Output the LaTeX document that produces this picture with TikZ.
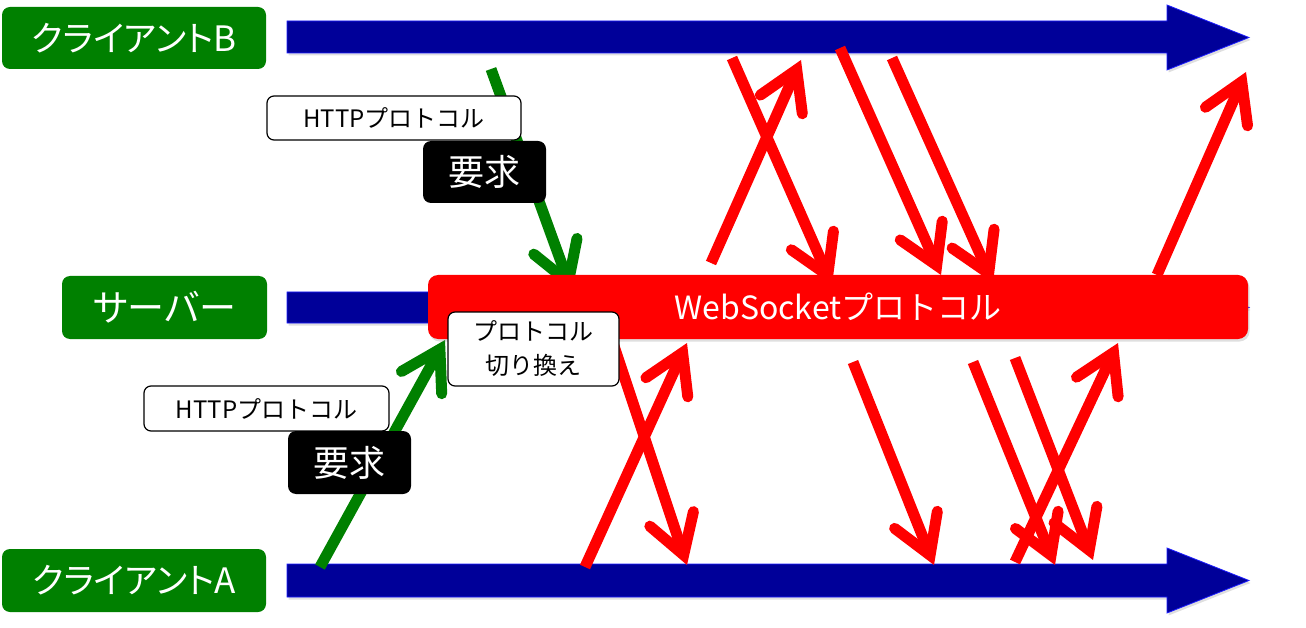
\documentclass[tikz,border=0pt]{standalone}
\usepackage{fontspec}
\newfontfamily\jp{Noto Sans CJK JP}
\newfontfamily\jpp[RawFeature=+palt]{Noto Sans CJK JP}
\usetikzlibrary{arrows.meta,shadows}
\definecolor{lanegreen}{RGB}{0,128,0}
\definecolor{lineblue}{RGB}{0,0,153}
\definecolor{edgeblue}{RGB}{30,30,255}
\definecolor{wsred}{RGB}{255,0,0}
\begin{document}
\begin{tikzpicture}[x=1pt,y=-1pt,
  lane/.style={fill=lanegreen, rounded corners=8pt, text=white, inner sep=0pt,
    font=\jpp\fontsize{35}{40}\selectfont},
  whitebox/.style={draw=black, line width=1.2pt, fill=white, rounded corners=7pt,
    inner sep=0pt, font=\jp\fontsize{24}{34}\selectfont, align=center},
  blackbox/.style={fill=black, rounded corners=8pt, text=white, inner sep=0pt,
    font=\jp\fontsize{36}{40}\selectfont},
  wsbox/.style={fill=wsred, rounded corners=10pt, text=white, inner sep=0pt,
    font=\jp\fontsize{32}{36}\selectfont,
    drop shadow={shadow xshift=1.5pt, shadow yshift=-2.5pt, opacity=0.25}},
  lifeline/.style={fill=lineblue, draw=edgeblue, line width=0.8pt,
    drop shadow={shadow xshift=1.5pt, shadow yshift=-2.5pt, opacity=0.25}},
  msg/.style={line width=11pt,
    -{Straight Barb[length=38pt, width=46pt, line cap=round, line join=miter]},
    preaction={draw=black, draw opacity=0.12, transform canvas={shift={(1.5pt,-2.5pt)}}}},
  redmsg/.style={msg, draw=wsred},
  greenmsg/.style={msg, draw=lanegreen},
]
\useasboundingbox (0,0) rectangle (1306,628);

% life lines
\path[lifeline] (287,21) -- (1167,21) -- (1167,5) -- (1249,37.5) -- (1167,70) -- (1167,53) -- (287,53) -- cycle;
\path[lifeline] (287,292) -- (1167,292) -- (1167,278) -- (1249,307.5) -- (1167,337) -- (1167,323) -- (287,323) -- cycle;
\path[lifeline] (287,564) -- (1167,564) -- (1167,548) -- (1249,580.5) -- (1167,613) -- (1167,597) -- (287,597) -- cycle;

% lane labels
\node[lane, minimum width=264pt, minimum height=62pt] (clientB) at (134,38) {クライアントB};
\node[lane, minimum width=205pt, minimum height=63pt, font=\jpp\fontsize{37}{40}\selectfont] (server) at (164.5,307.5) {サーバー};
\node[lane, minimum width=264pt, minimum height=63pt] (clientA) at (134,580.5) {クライアントA};

% coordinates of messages
\coordinate (g1s) at (491,69);   \coordinate (g1e) at (572,292);
\coordinate (g2s) at (320,567);  \coordinate (g2e) at (445,340);
\coordinate (r1s) at (711,263);  \coordinate (r1e) at (801,60);
\coordinate (r2s) at (732,58);   \coordinate (r2e) at (832,285);
\coordinate (r3s) at (840,48);   \coordinate (r3e) at (941,275);
\coordinate (r4s) at (892,58);   \coordinate (r4e) at (993,283);
\coordinate (r5s) at (1157,275); \coordinate (r5e) at (1246,72);
\coordinate (r7s) at (585,567);  \coordinate (r7e) at (687,343);
\coordinate (r8s) at (611,337);  \coordinate (r8e) at (687,565);
\coordinate (r9s) at (853,362);  \coordinate (r9e) at (934,565);
\coordinate (r10s) at (973,362); \coordinate (r10e) at (1055,565);
\coordinate (r11s) at (1015,358);\coordinate (r11e) at (1093,560);
\coordinate (r12s) at (1015,562);\coordinate (r12e) at (1118,343);

% HTTP requests
\draw[greenmsg] (g1s) -- (g1e);
\draw[greenmsg] (g2s) -- (g2e);
\node[whitebox, minimum width=254pt, minimum height=44pt] (http1) at (394,118) {HTTPプロトコル};
\node[blackbox, minimum width=123pt, minimum height=62pt] (req1) at (484.5,172) {要求};
\node[whitebox, minimum width=245pt, minimum height=45pt] (http2) at (266.5,408.5) {HTTPプロトコル};
\node[blackbox, minimum width=123pt, minimum height=63pt] (req2) at (349.5,462.5) {要求};

% upper websocket messages
\draw[redmsg] (r1s) -- (r1e);
\draw[redmsg] (r2s) -- (r2e);
\draw[redmsg] (r3s) -- (r3e);
\draw[redmsg] (r4s) -- (r4e);
\draw[redmsg] (r5s) -- (r5e);

% websocket bar
\node[wsbox, minimum width=820pt, minimum height=64pt] (ws) at (838,307) {WebSocketプロトコル};

% lower websocket messages
\draw[redmsg] (r8s) -- (r8e);
\draw[redmsg] (r7s) -- (r7e);
\draw[redmsg] (r9s) -- (r9e);
\draw[redmsg] (r10s) -- (r10e);
\draw[redmsg] (r12s) -- (r12e);
\draw[redmsg] (r11s) -- (r11e);

% protocol switch label
\node[whitebox, minimum width=171pt, minimum height=74pt] (switch) at (533.5,349) {プロトコル\\切り換え};
\end{tikzpicture}
\end{document}
